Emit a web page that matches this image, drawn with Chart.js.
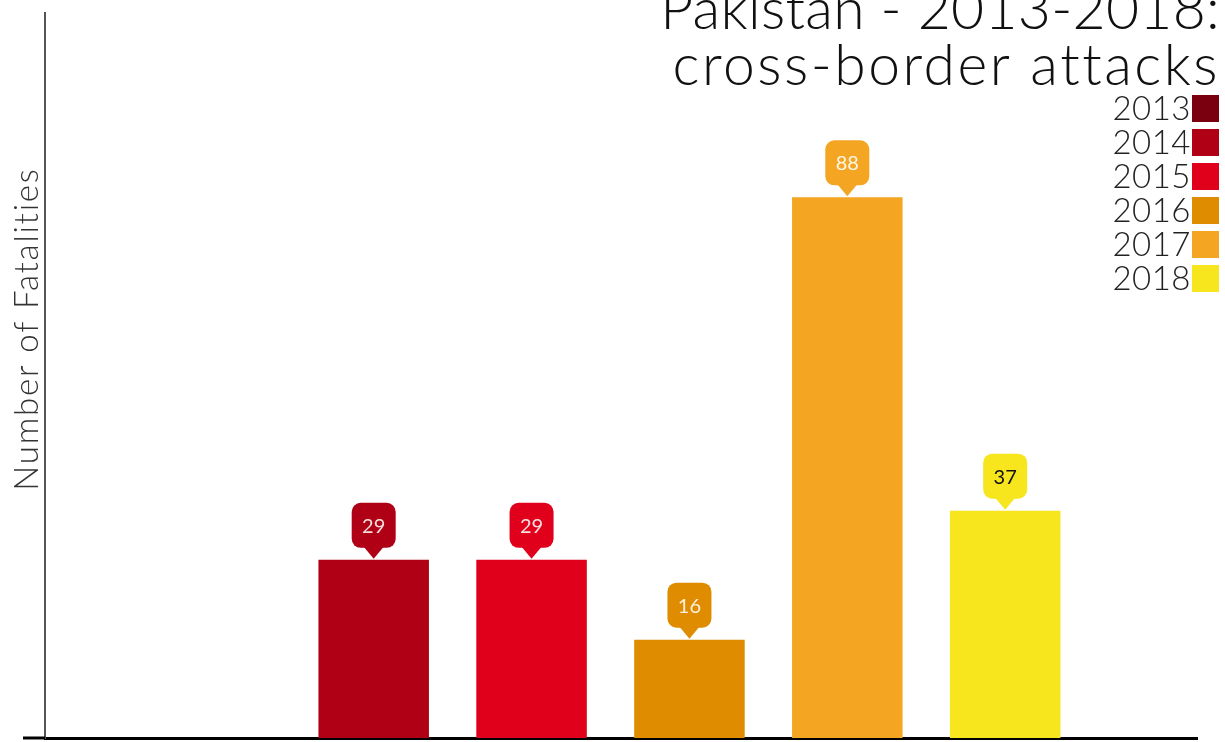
<!DOCTYPE html>
<html>
<head>
<meta charset="utf-8">
<script src="https://cdn.jsdelivr.net/npm/chart.js@4.4.1/dist/chart.umd.min.js"></script>
<style>
  html, body { margin: 0; padding: 0; background: #fff; }
  #wrap { width: 1225px; height: 742px; }
</style>
</head>
<body>
<div id="wrap"><canvas id="myChart"></canvas></div>
<script>
// Fatalities per year
const years = [2013, 2014, 2015, 2016, 2017, 2018];
const fatalities = [0, 29, 29, 16, 88, 37];
const colours = ['#7a0010', '#b00016', '#e0001c', '#e08c00', '#f4a522', '#f7e51e'];
const labelText = ['#ffffff', '#f6dede', '#fbe0e0', '#fdf0dc', '#fff6e6', '#111111'];

const titleLines = ['Pakistan - 2013-2018:', 'cross-border attacks'];
const yTitle = 'Number of Fatalities';
const FONT = 'Lato, "Open Sans", sans-serif';

const points = years.map((y, i) => ({ x: y, y: fatalities[i] }));

// value bubbles above the bars, legend on the right, titles
const decorations = {
    id: 'decorations',
    afterDatasetsDraw(chart) {
        const ctx = chart.ctx;
        const meta = chart.getDatasetMeta(0);
        ctx.save();
        meta.data.forEach((bar, i) => {
            if (!fatalities[i]) return;
            const w = 44, h = 45, r = 9, tip = 11;
            const x = bar.x, yTip = bar.y - 1;
            const top = yTip - tip - h;
            ctx.fillStyle = colours[i];
            ctx.beginPath();
            ctx.roundRect(x - w / 2, top, w, h, r);
            ctx.fill();
            ctx.beginPath();
            ctx.moveTo(x - 10, top + h - 1);
            ctx.lineTo(x + 10, top + h - 1);
            ctx.lineTo(x, yTip);
            ctx.closePath();
            ctx.fill();
            ctx.fillStyle = labelText[i];
            ctx.font = '20px ' + FONT;
            ctx.textAlign = 'center';
            ctx.textBaseline = 'middle';
            ctx.fillText(String(fatalities[i]), x, top + h / 2 + 1);
        });
        ctx.restore();
    },
    afterDraw(chart) {
        const ctx = chart.ctx;
        const area = chart.chartArea;
        ctx.save();

        // baseline runs a little past the y axis
        ctx.strokeStyle = '#000';
        ctx.lineWidth = 3;
        ctx.beginPath();
        ctx.moveTo(area.left - 22, area.bottom);
        ctx.lineTo(area.left, area.bottom);
        ctx.stroke();

        // title, right aligned
        ctx.fillStyle = '#111';
        ctx.font = '300 57px ' + FONT;
        ctx.textAlign = 'right';
        ctx.textBaseline = 'alphabetic';
        ctx.letterSpacing = '0.3px';
        ctx.fillText(titleLines[0], 1220, 29);
        ctx.letterSpacing = '2.5px';
        ctx.fillText(titleLines[1], 1220, 85);

        // legend: text then swatch
        ctx.font = '300 33px ' + FONT;
        ctx.letterSpacing = '0.5px';
        ctx.textBaseline = 'middle';
        years.forEach((yr, i) => {
            const yMid = 108 + i * 34;
            ctx.fillStyle = colours[i];
            ctx.fillRect(1192, yMid - 13, 27, 27);
            ctx.fillStyle = '#222';
            ctx.fillText(String(yr), 1191, yMid + 1);
        });

        // y axis title
        ctx.translate(27, 329);
        ctx.rotate(-Math.PI / 2);
        ctx.textAlign = 'center';
        ctx.fillStyle = '#333';
        ctx.font = '300 33px ' + FONT;
        ctx.letterSpacing = '1.8px';
        ctx.fillText(yTitle, 0, 0);
        ctx.restore();
    }
};

const config = {
    type: 'bar',
    data: {
        datasets: [{
            data: points,
            backgroundColor: colours,
            borderWidth: 0,
            barPercentage: 0.7,
            categoryPercentage: 1
        }]
    },
    options: {
        responsive: true,
        maintainAspectRatio: false,
        animation: false,
        layout: { padding: { left: 45, right: 28, top: 13, bottom: 4 } },
        plugins: {
            legend: { display: false },
            title: { display: false },
            tooltip: { enabled: false }
        },
        scales: {
            x: {
                type: 'linear',
                offset: false,
                min: 2011.918,
                max: 2019.215,
                ticks: { display: false },
                grid: { display: false, drawTicks: false },
                border: { display: true, color: '#000', width: 3 }
            },
            y: {
                min: 0,
                max: 118,
                ticks: { display: false },
                grid: { display: false, drawTicks: false },
                border: { display: true, color: '#555', width: 2 }
            }
        }
    },
    plugins: [decorations]
};

const myChart = new Chart(document.getElementById('myChart'), config);
</script>
</body>
</html>
